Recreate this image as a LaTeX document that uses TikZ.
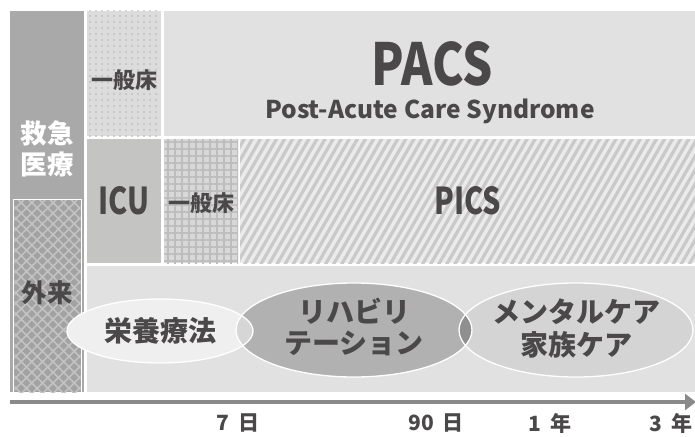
\documentclass[tikz,border=0pt]{standalone}
\usepackage{graphicx}
\usepackage{fontspec}
\setmainfont{Noto Sans CJK JP}
\usetikzlibrary{patterns.meta,shapes.geometric,arrows.meta}
\definecolor{txt}{HTML}{4A4848}
\definecolor{colL}{HTML}{A9A9A9}
\definecolor{bgc}{HTML}{E1E1E1}
\definecolor{icuc}{HTML}{C4C5C3}
\definecolor{dotbase}{HTML}{DCDCDC}
\definecolor{dotc}{HTML}{C2C2C2}
\definecolor{gridbase}{HTML}{D8D8D8}
\definecolor{gridc}{HTML}{BDBDBD}
\definecolor{stripebase}{HTML}{EBEBEB}
\definecolor{stripec}{HTML}{C9C9C9}
\definecolor{gairaibase}{HTML}{A2A2A2}
\definecolor{gairaic}{HTML}{C3C3C3}
\definecolor{eiyoc}{HTML}{EFEFEF}
\definecolor{rihac}{HTML}{B1B1B1}
\definecolor{mentalc}{HTML}{D4D4D4}
\definecolor{ov1}{HTML}{D6D6D6}
\definecolor{ov2}{HTML}{8F8F8F}
\definecolor{axisc}{HTML}{8A8A8A}
\tikzset{
  lbl/.style={text=txt, font=\bfseries\fontsize{#1}{#1}\selectfont, inner sep=0pt, align=center},
  lbl/.default=22,
  lblm/.style 2 args={text=txt, font=\bfseries\fontsize{#1}{#2}\selectfont, inner sep=0pt, align=center},
  ellbox/.style={ellipse, draw=white, line width=1.3pt, inner sep=0pt},
}
\begin{document}
\begin{tikzpicture}[x=1pt,y=-1pt]
\useasboundingbox (0,0) rectangle (695,436);
\fill[white] (0,0) rectangle (695,436);
% left column
\fill[colL] (10,11) rectangle (84,392);
\fill[white] (13,199) rectangle (82,392);
\fill[gairaibase] (14.3,200.3) rectangle (80.7,392);
\fill[pattern={Hatch[angle=45,distance=7.5pt,line width=1.6pt]}, pattern color=gairaic] (14.3,200.3) rectangle (80.7,392);
% top general ward (dots)
\fill[dotbase] (87,11) rectangle (161,136);
\fill[pattern={Dots[distance=6pt,radius=1.2pt]}, pattern color=dotc] (87,11) rectangle (161,136);
% PACS
\fill[bgc] (163.5,11) rectangle (695,136);
% ICU
\fill[icuc] (87,139) rectangle (161,263);
% grid general ward
\fill[gridbase] (164,139) rectangle (238,263);
\fill[pattern={Hatch[angle=0,distance=7pt,line width=1.6pt]}, pattern color=gridc] (164,139) rectangle (238,263);
% PICS
\fill[stripebase] (240,139) rectangle (695,263);
\fill[pattern={Lines[angle=60,distance=7pt,line width=3.2pt]}, pattern color=stripec] (240,139) rectangle (695,263);
% bottom area
\fill[bgc] (87,266) rectangle (695,392);

% ellipses
\fill[eiyoc] (160,331) ellipse [x radius=93, y radius=32];
\fill[rihac] (354,330) ellipse [x radius=118, y radius=47];
\fill[mentalc] (576,330) ellipse [x radius=117, y radius=47];
\begin{scope}
  \clip (160,331) ellipse [x radius=93, y radius=32];
  \fill[ov1] (354,330) ellipse [x radius=118, y radius=47];
\end{scope}
\begin{scope}
  \clip (354,330) ellipse [x radius=118, y radius=47];
  \fill[ov2] (576,330) ellipse [x radius=117, y radius=47];
\end{scope}
\node[ellbox, minimum width=186pt, minimum height=64pt] (eiyo) at (160,331) {};
\node[ellbox, minimum width=236pt, minimum height=94pt] (riha) at (354,330) {};
\node[ellbox, minimum width=234pt, minimum height=94pt] (mental) at (576,330) {};

% labels
\node[lblm={26.5}{31}, text=white] (kyukyu) at (47,149) {救急\\医療};
\node[lbl=25.5] (gairai) at (47,293) {外来};
\node[lbl=22] (ippan1) at (124,80) {一般床};
\node[lbl=37] (icu) at (124,201) {\scalebox{0.78}[1]{ICU}};
\node[lbl=22] (ippan2) at (201,203) {一般床};
\node[lbl=58] (pacs) at (432,64) {\scalebox{0.82}[1]{PACS}};
\node[lbl=24.5] (pacsfull) at (430,111) {Post-Acute Care Syndrome};
\node[lbl=37] (pics) at (468,201) {\scalebox{0.78}[1]{PICS}};
\node[lbl=28] (eiyot) at (eiyo.center) {栄養療法};
\node[lblm={28}{31}] (rihat) at ([yshift=3]riha.center) {リハビリ\\テーション};
\node[lblm={28}{33}] (mentalt) at ([yshift=2]mental.center) {メンタルケア\\家族ケア};

% axis
\coordinate (axs) at (10,402);
\coordinate (axe) at (696,402);
\draw[axisc, line width=3.4pt, -{Triangle[length=11pt,width=16pt]}] (axs) -- (axe);
\node[lbl=21] (t1) at (238,423) {7\hspace{9pt}日};
\node[lbl=21] (t2) at (436,423) {90\hspace{9pt}日};
\node[lbl=21] (t3) at (550,423) {1\hspace{9pt}年};
\node[lbl=21] (t4) at (671,423) {3\hspace{9pt}年};
\end{tikzpicture}
\end{document}
